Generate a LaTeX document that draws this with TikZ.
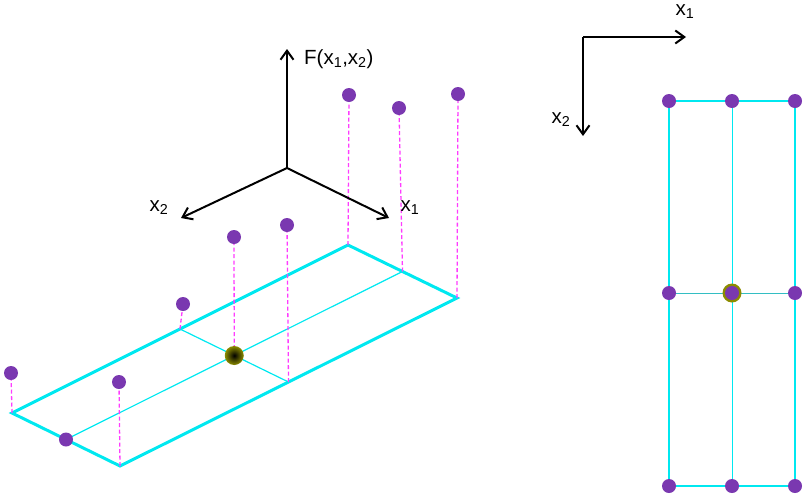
\documentclass[tikz,border=0pt]{standalone}
\usepackage{fontspec}
\setmainfont{Liberation Sans}
\usetikzlibrary{arrows.meta}
\definecolor{cy}{RGB}{0,232,240}
\definecolor{mag}{RGB}{255,60,255}
\definecolor{pur}{RGB}{122,56,176}
\definecolor{oli}{RGB}{140,140,0}
\tikzset{
  thick plane/.style={draw=cy,line width=3pt},
  thin plane/.style={draw=cy,line width=1.2pt},
  stem/.style={draw=mag,dash pattern=on 4pt off 2.5pt,line width=1.3pt},
  pt/.style={circle,inner sep=0pt,minimum size=14pt,fill=pur},
  cpt/.style={circle,inner sep=0pt,minimum size=19pt,inner color=black,outer color=oli},
  axis/.style={draw=black,line width=2pt,-{Straight Barb[length=9pt,width=13pt,line width=2pt]}},
  lbl/.style={font=\fontsize{20.5pt}{24pt}\selectfont,inner sep=1pt}
}
\begin{document}
\begin{tikzpicture}[x=1pt,y=-1pt]
\useasboundingbox (0,0) rectangle (804,496);
% ---------- left: plane ----------
\coordinate (L) at (12,413);
\coordinate (B) at (120,466);
\coordinate (R) at (457,298);
\coordinate (T) at (348,245);
\coordinate (LB) at (66,439.5);
\coordinate (TR) at (402.5,271.5);
\coordinate (LT) at (180,329);
\coordinate (BR) at (288.5,382);
\coordinate (C) at (234.25,355.5);
\draw[thin plane] (LB) -- (TR);
\draw[thin plane] (LT) -- (BR);
\draw[thick plane] (L) -- (B) -- (R) -- (T) -- cycle;
% stems
\node[pt] (pL) at (11,373) {};
\node[pt] (pB) at (119,382) {};
\node[pt] (pLT) at (183,304) {};
\node[pt] (pC) at (234,237) {};
\node[pt] (pBR) at (287,225) {};
\node[pt] (pT) at (349,95) {};
\node[pt] (pTR) at (399,108) {};
\node[pt] (pR) at (458,94) {};
\draw[stem] (L) -- (pL);
\draw[stem] (B) -- (pB);
\draw[stem] (LT) -- (pLT);
\draw[stem] (C) -- (pC);
\draw[stem] (BR) -- (pBR);
\draw[stem] (T) -- (pT);
\draw[stem] (TR) -- (pTR);
\draw[stem] (R) -- (pR);
\node[pt] (pLB) at (LB) {};
\node[cpt] (cc) at (C) {};
% axes
\coordinate (O) at (287,168);
\coordinate (Fz) at (287,49);
\coordinate (X1) at (389,218);
\coordinate (X2) at (181,218);
\draw[axis] (O) -- (Fz);
\draw[axis] (O) -- (X1);
\draw[axis] (O) -- (X2);
\node[lbl,anchor=west] (lF) at (303,59) {F(x\textsubscript{1},x\textsubscript{2})};
\node[lbl] (lx1) at (410,208) {x\textsubscript{1}};
\node[lbl] (lx2) at (159,208) {x\textsubscript{2}};
% ---------- right: grid ----------
\coordinate (O2) at (583,37);
\coordinate (E1) at (686,37);
\coordinate (E2) at (583,136);
\draw[axis] (O2) -- (E1);
\draw[axis] (O2) -- (E2);
\node[lbl] (rx1) at (685,12) {x\textsubscript{1}};
\node[lbl] (rx2) at (561,120) {x\textsubscript{2}};
\coordinate (g11) at (669,101);
\coordinate (g12) at (732,101);
\coordinate (g13) at (795,101);
\coordinate (g21) at (669,293);
\coordinate (g22) at (732,293);
\coordinate (g23) at (795,293);
\coordinate (g31) at (669,486);
\coordinate (g32) at (732,486);
\coordinate (g33) at (795,486);
\draw[draw=cy,line width=0.9pt] (g12) -- (g32);
\draw[draw=cy!60!gray,line width=0.9pt] (g21) -- (g23);
\draw[draw=cy,line width=2.2pt] (g11) -- (g13) -- (g33) -- (g31) -- cycle;
\node[circle,inner sep=0pt,minimum size=19pt,fill=oli] (gc) at (g22) {};
\foreach \p in {g11,g12,g13,g21,g22,g23,g31,g32,g33}
  \node[pt] (n\p) at (\p) {};
\end{tikzpicture}
\end{document}
